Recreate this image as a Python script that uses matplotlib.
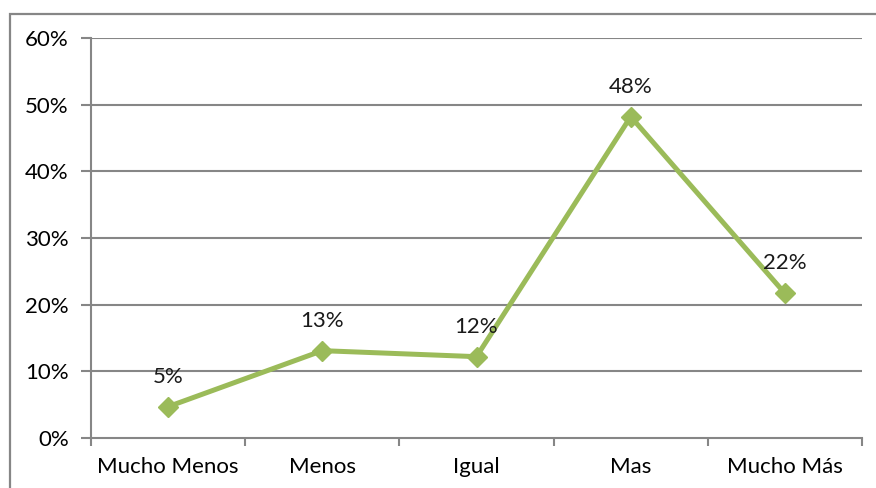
import matplotlib
matplotlib.use("Agg")
import matplotlib.pyplot as plt
from matplotlib.patches import Rectangle

categories = ["Mucho Menos", "Menos", "Igual", "Mas", "Mucho Más"]
values = [4.7, 13.1, 12.2, 48.2, 21.7]
labels = ["5%", "13%", "12%", "48%", "22%"]
yticks = [0, 10, 20, 30, 40, 50, 60]
ytick_labels = ["0%", "10%", "20%", "30%", "40%", "50%", "60%"]

plt.rcParams['font.family'] = ['Lato', 'DejaVu Sans']
W, H = 876, 488
fig = plt.figure(figsize=(W/100, H/100), dpi=100)
fig.patch.set_facecolor("white")

# outer chart border (left and top visible)
fig.patches.append(Rectangle((10/W, -0.1), 1.2, 1.1 - 14/H,
                             transform=fig.transFigure, fill=False,
                             edgecolor="#868686", linewidth=1.6))

ax = fig.add_axes([91/W, 50/H, 771/W, 400/H])
grid_c = "#868686"
fs = 16
ax.set_xlim(0, len(categories))
ax.set_ylim(0, 60)
ax.set_yticks(yticks)
ax.set_yticklabels(ytick_labels, fontsize=fs)
for y in yticks[1:]:
    ax.axhline(y, color=grid_c, linewidth=1.5, zorder=1)
ax.set_xticks(range(len(categories) + 1))
ax.set_xticklabels([])
ax.set_xticks([i + 0.5 for i in range(len(categories))], minor=True)
ax.set_xticklabels(categories, minor=True, fontsize=fs)
ax.tick_params(axis="x", which="minor", length=0, pad=14)
ax.tick_params(axis="x", which="major", length=6, color=grid_c, width=1.5)
ax.tick_params(axis="y", length=7, color=grid_c, width=1.5, pad=9)
for s in ["top", "right"]:
    ax.spines[s].set_visible(False)
for s in ["left", "bottom"]:
    ax.spines[s].set_color(grid_c)
    ax.spines[s].set_linewidth(1.5)

xs = [i + 0.5 for i in range(len(categories))]
ax.plot(xs, values, color="#9BBB59", linewidth=3.6, marker="D", markersize=10,
        zorder=3, clip_on=False)
for x, v, l in zip(xs, values, labels):
    ax.annotate(l, (x, v), xytext=(0, 21.5), textcoords="offset points",
                ha="center", va="center", fontsize=fs, color="#1a1a1a")

fig.savefig("out.png", dpi=100)
